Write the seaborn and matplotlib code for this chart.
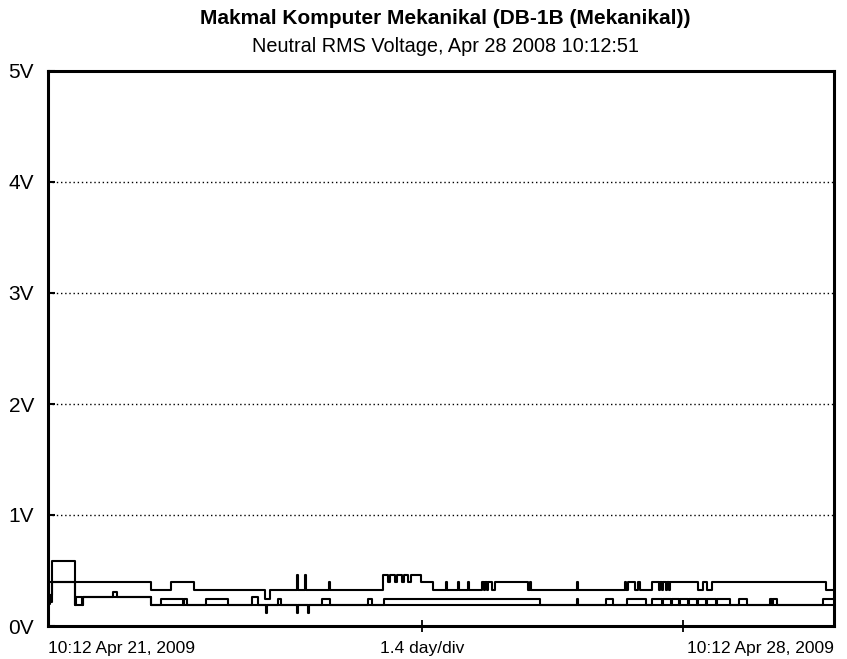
import matplotlib
matplotlib.use("Agg")
import matplotlib.pyplot as plt
import matplotlib.transforms as mtransforms
import pandas as pd
import seaborn as sns

# Neutral RMS voltage log, time in days since 10:12 Apr 21, 2009
max_t = [0.00, 0.036, 0.240, 0.917, 1.095, 1.300, 1.932, 1.977, 2.217, 2.227, 2.289, 2.299,
         2.502, 2.512, 2.983, 3.03, 3.05, 3.09, 3.11, 3.15, 3.17, 3.21, 3.23, 3.322, 3.429,
         3.544, 3.554, 3.651, 3.661, 3.740, 3.750, 3.865, 3.88, 3.89, 3.91, 3.92, 3.95, 3.981,
         4.275, 4.29, 4.305, 4.711, 4.721, 5.138, 5.147, 5.165, 5.23, 5.25, 5.27, 5.379, 5.44,
         5.45, 5.47, 5.48, 5.50, 5.51, 5.53, 5.54, 5.789, 5.83, 5.87, 5.913, 6.928, 7.0]
max_v = [0.40, 0.585, 0.40, 0.32, 0.40, 0.32, 0.24, 0.32, 0.46, 0.32, 0.46, 0.32,
         0.40, 0.32, 0.46, 0.40, 0.46, 0.40, 0.46, 0.40, 0.46, 0.40, 0.46, 0.40, 0.32,
         0.40, 0.32, 0.40, 0.32, 0.40, 0.32, 0.40, 0.32, 0.40, 0.32, 0.40, 0.32, 0.40,
         0.32, 0.40, 0.32, 0.40, 0.32, 0.40, 0.32, 0.40, 0.32, 0.40, 0.32, 0.40, 0.32,
         0.40, 0.32, 0.40, 0.32, 0.40, 0.32, 0.40, 0.32, 0.40, 0.32, 0.40, 0.32, 0.32]

avg_t = [0.00, 0.036, 0.240, 0.249, 0.303, 0.312, 0.579, 0.614, 0.917, 1.006, 1.202, 1.215,
         1.238, 1.407, 1.603, 1.817, 1.870, 2.048, 2.075, 2.440, 2.511, 2.850, 2.885, 2.992,
         4.381, 4.711, 4.721, 4.969, 5.032, 5.156, 5.33, 5.379, 5.47, 5.475, 5.55, 5.555,
         5.62, 5.625, 5.70, 5.705, 5.78, 5.785, 5.86, 5.865, 5.95, 5.955, 6.074, 6.154,
         6.225, 6.430, 6.45, 6.46, 6.492, 6.902, 7.0]
avg_v = [0.22, 0.40, 0.19, 0.26, 0.19, 0.26, 0.31, 0.26, 0.19, 0.24, 0.19, 0.24,
         0.19, 0.24, 0.19, 0.26, 0.19, 0.24, 0.19, 0.24, 0.19, 0.24, 0.19, 0.24,
         0.19, 0.24, 0.19, 0.24, 0.19, 0.24, 0.19, 0.24, 0.19, 0.24, 0.19, 0.24,
         0.19, 0.24, 0.19, 0.24, 0.19, 0.24, 0.19, 0.24, 0.19, 0.24, 0.19, 0.24,
         0.19, 0.24, 0.19, 0.24, 0.19, 0.24, 0.24]

min_t = [0.00, 0.01, 0.02, 0.036, 0.240, 0.312, 0.917, 1.941, 1.951, 2.217, 2.227, 2.315,
         2.325, 7.0]
min_v = [0.30, 0.20, 0.28, 0.40, 0.19, 0.26, 0.19, 0.12, 0.19, 0.12, 0.19, 0.12,
         0.19, 0.19]

y_ticks = [0, 1, 2, 3, 4, 5]
y_labels = ["0V", "1V", "2V", "3V", "4V", "5V"]
x_ticks = [3.33, 5.655]
div_label = "1.4 day/div"
start_label = "10:12 Apr 21, 2009"
end_label = "10:12 Apr 28, 2009"
title = "Makmal Komputer Mekanikal (DB-1B (Mekanikal))"
subtitle = "Neutral RMS Voltage, Apr 28 2008 10:12:51"

sns.set_theme(style="white")
plt.rcParams["font.family"] = ["Liberation Sans", "DejaVu Sans"]
plt.rcParams["text.color"] = "black"
plt.rcParams["xtick.labelcolor"] = "black"
plt.rcParams["ytick.labelcolor"] = "black"

fig = plt.figure(figsize=(8.47, 6.59), dpi=100)
ax = fig.add_axes([48 / 847, 1 - 626 / 659, (834 - 48) / 847, (626 - 71) / 659])

frames = []
for name, t, v in [("max", max_t, max_v), ("avg", avg_t, avg_v), ("min", min_t, min_v)]:
    frames.append(pd.DataFrame({"day": t, "volts": v, "trace": name}))
for df in frames:
    sns.lineplot(data=df, x="day", y="volts", ax=ax, color="black", lw=1.5,
                 drawstyle="steps-post", estimator=None, sort=False, legend=False)

ax.set_xlim(0, 7)
ax.set_ylim(0, 5)
ax.set_xlabel("")
ax.set_ylabel("")

for yv in y_ticks[1:-1]:
    ax.axhline(yv, color="black", lw=1.0, linestyle=(0, (1, 2)), zorder=0)

ax.set_yticks(y_ticks)
ax.set_yticklabels(y_labels, fontsize=15)
ax.set_xticks(x_ticks)
ax.set_xticklabels(["", ""])
ax.tick_params(axis="y", direction="in", length=5, width=1.5, color="black", pad=10, left=True,
               labelcolor="black")
ax.tick_params(axis="x", direction="inout", length=8, width=1.3, color="black", bottom=True)

for s in ax.spines.values():
    s.set_visible(True)
    s.set_color("black")
    s.set_linewidth(2.2)

label_y = 1 - 648 / 659
trans = mtransforms.blended_transform_factory(ax.transAxes, fig.transFigure)
trans_data = mtransforms.blended_transform_factory(ax.transData, fig.transFigure)
ax.text(0.0, label_y, start_label, transform=trans, ha="left", va="center", fontsize=12.5, color="black")
ax.text(1.0, label_y, end_label, transform=trans, ha="right", va="center", fontsize=12.5, color="black")
ax.text(x_ticks[0], label_y, div_label, transform=trans_data, ha="center", va="center",
        fontsize=12.5, color="black")

fig.text(445 / 847, 1 - 18 / 659, title, ha="center", va="center", fontsize=15,
         fontweight="bold", color="black")
fig.text(445 / 847, 1 - 47 / 659, subtitle, ha="center", va="center", fontsize=14.3, color="black")

fig.savefig("out.png", dpi=100, facecolor="white")
